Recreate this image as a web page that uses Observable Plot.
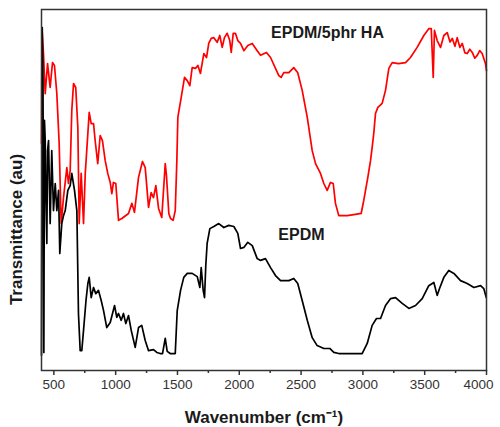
<!DOCTYPE html>
<html>
<head>
<meta charset="utf-8">
<script src="https://cdn.jsdelivr.net/npm/d3@7"></script>
<script src="https://cdn.jsdelivr.net/npm/@observablehq/plot@0.6"></script>
<style>
  body { margin: 0; background: #fff; }
  #chart { width: 500px; height: 427px; }
</style>
</head>
<body>
<div id="chart"></div>
<script>
// EPDM/5phr HA spectrum (wavenumber, transmittance a.u.)
const haWavenumber = [400,404,416,430,449,470,489,505,524,543,559,578,605,618,632,645,659,677,694,705,721,740,754,766,786,802,821,834,855,875,893,915,936,956,969,982,1001,1023,1050,1104,1131,1152,1185,1217,1239,1266,1287,1306,1325,1347,1373,1401,1411,1430,1444,1465,1482,1495,1503,1530,1557,1579,1600,1619,1646,1665,1686,1713,1735,1753,1773,1794,1821,1842,1862,1880,1902,1923,1935,1951,1969,1988,2010,2037,2069,2105,2145,2172,2220,2253,2293,2320,2339,2360,2401,2441,2473,2509,2550,2590,2617,2657,2684,2711,2738,2760,2778,2805,2873,2927,2986,3007,3040,3062,3075,3088,3102,3121,3156,3183,3210,3237,3288,3345,3385,3439,3493,3533,3553,3569,3579,3601,3628,3655,3682,3705,3723,3745,3763,3785,3804,3825,3844,3865,3885,3905,3925,3945,3965,3992,4000];
const haT = [62.9,94.7,87.8,76.7,85.0,78.4,85.3,84.5,76.7,62.9,40.7,47.9,56.2,51.8,55.4,72.0,79.5,78.4,67.3,40.7,54.6,40.7,54.6,60.9,71.5,68.4,68.4,63.7,57.3,65.1,63.7,58.2,54.6,52.1,49.0,52.1,51.8,41.6,42.1,43.5,46.3,43.8,53.5,57.9,56.2,45.2,49.3,47.9,51.2,44.9,42.4,57.3,54.0,43.5,42.1,41.6,44.3,58.2,70.1,75.6,81.2,80.3,78.9,83.9,83.7,84.5,82.3,87.8,86.7,90.6,92.0,92.2,90.9,92.8,89.5,92.2,93.4,91.4,88.1,93.4,93.4,91.4,90.6,88.6,90.0,90.6,88.6,87.3,88.1,86.7,83.7,81.7,81.2,82.5,82.5,83.9,82.5,77.6,70.1,60.9,57.3,54.6,51.8,49.9,52.1,51.8,46.3,42.9,42.9,43.2,43.5,47.1,53.5,58.2,61.8,65.7,71.2,72.9,74.0,77.6,83.7,85.3,85.0,85.3,86.7,89.5,92.8,94.7,94.7,81.2,94.2,91.4,89.5,92.8,93.6,91.0,92.0,89.8,92.2,89.5,90.6,88.0,87.8,89.0,88.1,86.5,87.3,88.6,87.8,85.0,83.1];

// EPDM spectrum
const epdmWavenumber = [400,406,412,419,424,430,436,443,449,457,470,483,497,511,524,538,548,564,578,592,613,632,645,667,686,699,713,726,740,760,775,786,802,821,839,861,883,902,928,956,991,1009,1023,1045,1063,1082,1104,1126,1158,1185,1211,1239,1266,1306,1333,1360,1379,1401,1417,1441,1482,1498,1525,1551,1579,1619,1660,1681,1692,1708,1719,1729,1740,1762,1794,1834,1875,1915,1956,1988,2010,2037,2069,2105,2145,2172,2212,2253,2293,2334,2401,2441,2473,2509,2550,2590,2630,2684,2732,2765,2805,2994,3035,3075,3110,3143,3183,3223,3264,3318,3372,3426,3480,3533,3574,3601,3620,3655,3695,3736,3790,3844,3898,3952,3978,3998];
const epdmT = [4.2,95.0,80.3,5.0,69.3,63.7,47.1,35.2,60.9,63.7,40.7,60.9,44.3,51.8,44.3,49.9,32.4,40.7,42.9,44.3,49.9,51.2,54.6,49.9,44.3,15.8,5.5,5.5,11.1,19.4,24.1,25.8,20.2,23.0,21.3,22.2,19.4,16.6,11.9,13.3,18.0,14.7,15.8,13.9,15.8,13.0,15.2,11.1,6.4,11.9,12.5,8.3,5.5,5.8,5.0,4.7,4.7,8.9,5.3,4.7,4.7,16.6,22.2,25.8,26.9,26.9,26.0,23.0,28.5,22.2,20.2,29.1,35.2,39.3,39.9,40.7,39.6,40.2,39.9,38.0,33.8,34.1,35.5,34.6,31.0,30.5,31.0,28.5,26.3,24.9,24.9,25.5,24.1,19.4,13.9,9.1,6.9,6.1,6.1,5.0,4.7,4.7,7.5,12.5,14.4,14.4,18.0,19.9,20.2,18.6,17.2,18.0,19.9,23.5,24.4,20.8,22.7,25.8,27.7,26.9,24.9,24.1,23.0,23.5,22.7,20.2];

const majorTicks = [500,1000,1500,2000,2500,3000,3500,4000];
const minorTicks = [750,1250,1750,2250,2750,3250,3750];

const seriesNames = ["EPDM/5phr HA", "EPDM"];
const seriesColors = ["#ff0000", "#000000"];

const rows = [
  ...haWavenumber.map((w, i) => ({series: seriesNames[0], wn: w, t: haT[i]})),
  ...epdmWavenumber.map((w, i) => ({series: seriesNames[1], wn: w, t: epdmT[i]}))
];

const innerTicks = majorTicks.slice(0, -1);
const lastTick = majorTicks.slice(-1);

const chart = Plot.plot({
  width: 500,
  height: 427,
  marginLeft: 41,
  marginRight: 14,
  marginTop: 9,
  marginBottom: 57,
  style: {fontFamily: "'Liberation Sans', Arial, sans-serif", background: "#fff"},
  x: {domain: [400, 4000]},
  y: {domain: [0, 100], axis: null},
  color: {domain: seriesNames, range: seriesColors},
  marks: [
    Plot.line(rows, {x: "wn", y: "t", z: "series", stroke: "series", strokeWidth: 1.7, curve: "linear"}),
    Plot.frame({stroke: "#333", strokeWidth: 1.5}),
    Plot.axisX(innerTicks, {tickSize: 5, tickPadding: 4, fontSize: 13.5, color: "#333", strokeWidth: 1.5, tickFormat: d => String(d), label: null}),
    Plot.axisX(lastTick, {tickSize: 5, text: null, color: "#333", strokeWidth: 1.5, label: null}),
    Plot.axisX(lastTick, {tickSize: 0, tickPadding: 9, dx: -8, fontSize: 13.5, color: "#333", tickFormat: d => String(d), label: null}),
    Plot.axisX(minorTicks, {tickSize: 3, text: null, color: "#333", strokeWidth: 1.5, label: null}),
    Plot.text([seriesNames[0]], {x: 2714, y: 93.6, text: d => d, fontSize: 16, fontWeight: "bold", fill: "#1a1a1a", style: "letter-spacing:0.5px"}),
    Plot.text([seriesNames[1]], {x: 2503, y: 37.7, text: d => d, fontSize: 16, fontWeight: "bold", fill: "#1a1a1a"}),
    Plot.text(["Wavenumber (cm\u207B\u00B9)"], {frameAnchor: "bottom", lineAnchor: "middle", dy: 47, text: d => d, fontSize: 17, fontWeight: "bold", fill: "#1a1a1a"}),
    Plot.text(["Transmittance (au)"], {frameAnchor: "left", textAnchor: "middle", lineAnchor: "middle", dx: -25, dy: 39.5, rotate: -90, text: d => d, fontSize: 17, fontWeight: "bold", fill: "#1a1a1a"})
  ]
});
document.getElementById("chart").appendChild(chart);
</script>
</body>
</html>
